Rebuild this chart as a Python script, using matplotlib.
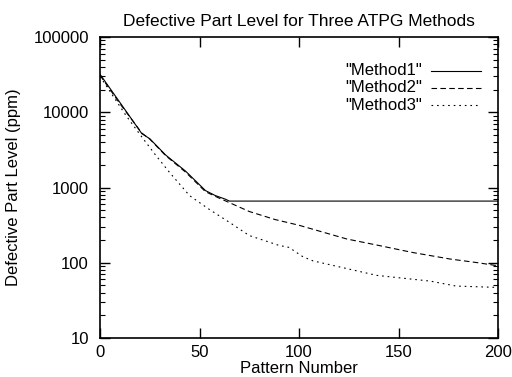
import matplotlib
matplotlib.use("Agg")
import matplotlib.pyplot as plt
from matplotlib.ticker import LogLocator, NullFormatter

plt.rcParams['font.family'] = ['Liberation Sans', 'DejaVu Sans']

m1_x = [0, 10, 21, 25, 33, 43, 53, 58, 63, 65, 200]
m1_y = [32000, 13500, 5200, 4450, 2700, 1650, 910, 780, 700, 660, 660]

m2_x = [0, 10, 21, 25, 33, 43, 53, 60, 65, 75, 88, 100, 124, 140, 157, 176, 190, 200]
m2_y = [31000, 13000, 5300, 4400, 2650, 1600, 880, 720, 630, 480, 375, 315, 207, 170, 137, 112, 100, 91]

m3_x = [0, 13, 20, 27, 35, 45, 55, 65, 75, 90, 95, 102, 107, 139, 166, 179, 200]
m3_y = [30000, 9100, 5100, 2900, 1580, 780, 510, 345, 230, 170, 160, 120, 106, 68, 57, 49, 47]

names = ['"Method1"', '"Method2"', '"Method3"']
x_ticks = [0, 50, 100, 150, 200]
y_ticks = [10, 100, 1000, 10000, 100000]
y_labels = ['10', '100', '1000', '10000', '100000']

fig = plt.figure(figsize=(5.12, 3.77), dpi=100)
ax = fig.add_axes([0.1953, 0.1034, 0.7774, 0.7985])

styles = [dict(linestyle='-'),
          dict(linestyle=(0, (5, 3))),
          dict(linestyle=(0, (1.5, 3.5)))]

for (xs, ys), st in zip([(m1_x, m1_y), (m2_x, m2_y), (m3_x, m3_y)], styles):
    ax.plot(xs, ys, color='black', linewidth=0.8, **st)

ax.set_yscale('log')
ax.set_xlim(0, 200)
ax.set_ylim(10, 100000)
ax.set_xticks(x_ticks)
ax.set_xticklabels([str(t) for t in x_ticks])
ax.set_yticks(y_ticks)
ax.set_yticklabels(y_labels)
ax.yaxis.set_minor_locator(LogLocator(base=10, subs=range(2, 10)))
ax.yaxis.set_minor_formatter(NullFormatter())

ax.tick_params(which='major', direction='in', length=7, width=1,
               top=True, right=True, labelsize=12)
ax.tick_params(axis='y', which='major', pad=8)
ax.tick_params(axis='x', which='major', pad=5)
ax.tick_params(which='minor', direction='in', length=3.5, width=0.8,
               top=False, right=True)
for sp in ax.spines.values():
    sp.set_linewidth(1.2)

ax.set_title('Defective Part Level for Three ATPG Methods', fontsize=12.5, pad=8)
ax.set_xlabel('Pattern Number', fontsize=12, labelpad=1)
ax.set_ylabel('Defective Part Level (ppm)', fontsize=12, labelpad=9)

# gnuplot-style key: label right aligned, sample line to its right
for i, (name, st) in enumerate(zip(names, styles)):
    yk = 0.888 - i * 0.057
    ax.text(0.81, yk, name, transform=ax.transAxes, ha='right', va='center', fontsize=12)
    ax.plot([0.832, 0.958], [yk, yk], transform=ax.transAxes, color='black',
            linewidth=0.8, **st)

fig.savefig('out.png', dpi=100)
